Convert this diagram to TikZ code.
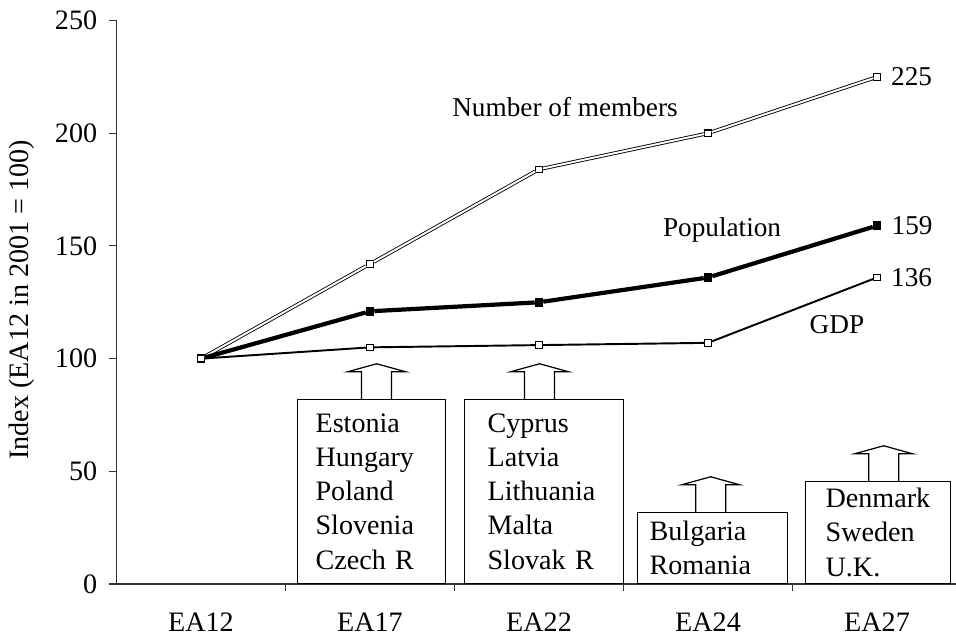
\documentclass[tikz,border=0pt]{standalone}
\usepackage{fontspec}
\setmainfont{Liberation Serif}
\usetikzlibrary{positioning}

\tikzset{
	axisline/.style={draw=black!80, line width=0.6pt},
	ticklabel/.style={inner sep=0pt, font=\fontsize{16}{18}\selectfont},
	openmark/.style={shape=rectangle, draw, fill=white, line width=0.6pt, minimum size=0.13cm, inner sep=0pt},
	fullmark/.style={shape=rectangle, draw, fill=black, line width=0.6pt, minimum size=0.15cm, inner sep=0pt},
	members/.style={draw=black, double=white, double distance=1.1pt, line width=0.5pt},
	population/.style={line width=2.4pt},
	gdp/.style={line width=1.1pt},
	countrybox/.style={shape=rectangle, draw, line width=0.7pt, anchor=south west, align=left, font=\fontsize{16}{19.5}\selectfont},
	serieslabel/.style={inner sep=0pt, font=\fontsize{15.5}{18}\selectfont},
}

% hollow arrow on top of a box: #1 box name, #2 shift
\newcommand{\entryarrow}[2]{
	\draw[line width=0.7pt, fill=white] ([xshift=#2]#1.north) ++(-0.3cm,0cm) -- ++(0cm,0.54cm) -- ++(-0.28cm,0cm)
		-- ++(0.58cm,0.16cm) -- ++(0.58cm,-0.16cm) -- ++(-0.28cm,0cm) -- ++(0cm,-0.54cm);
}

\begin{document}
\begin{tikzpicture}
	\useasboundingbox (0,0) rectangle (19.12,12.82);
	\begin{scope}[shift={(4.02,1.14)}, x=3.38cm, y=0.04508cm]
	% Axes, ticks and labels:
	\draw[axisline] (-0.5,250) -- (-0.5,0) -- (4.47,0);
	\foreach \v in {0,50,...,250} {
		\draw[axisline] (-0.5,\v) -- ++(-0.16cm,0cm);
		\node[ticklabel, anchor=east] (ytick\v) at ([xshift=-0.38cm]-0.5,\v) {\v};
	}
	\foreach \t in {0.5,1.5,2.5,3.5}
		\draw[axisline] (\t,0) -- ++(0cm,-0.14cm);
	\foreach \lab [count=\i from 0] in {EA12,EA17,EA22,EA24,EA27}
		\node[ticklabel] (xlab\i) at ([yshift=-0.76cm]\i,0) {\lab};
	\node[ticklabel, rotate=90] (ytitle) at (-1.059,126) {Index (EA12 in 2001 = 100)};

	% Data points:
	\foreach \v [count=\i from 0] in {100,142,184,200,225}
		\node[openmark] (m\i) at (\i,\v) {};
	\foreach \v [count=\i from 0] in {100,121,125,136,159}
		\node[fullmark] (p\i) at (\i,\v) {};
	\foreach \v [count=\i from 0] in {100,105,106,107,136}
		\node[openmark] (g\i) at (\i,\v) {};

	% Series lines:
	\draw[members] (m0) -- (m1) -- (m2) -- (m3) -- (m4);
	\draw[population] (p0) -- (p1) -- (p2) -- (p3) -- (p4);
	\draw[gdp] (g0) -- (g1) -- (g2) -- (g3) -- (g4);

	% Series labels and end values:
	\node[serieslabel] (memberslab) at (2.154,211.6) {Number of members};
	\node[serieslabel] (poplab) at (3.083,157.1) {Population};
	\node[serieslabel] (gdplab) at (3.763,114.9) {GDP};
	\node[serieslabel, right=0.2cm of m4] (mval) {225};
	\node[serieslabel, right=0.2cm of p4] (pval) {159};
	\node[serieslabel, right=0.2cm of g4] (gval) {136};

	% Entry boxes:
	\node[countrybox, text width=2.24cm, inner xsep=0.36cm, minimum height=3.68cm] (est) at (0.568,0)
		{Estonia\\Hungary\\Poland\\Slovenia\\Czech R};
	\node[countrybox, text width=2.26cm, inner xsep=0.46cm, minimum height=3.68cm] (cyp) at (1.556,0)
		{Cyprus\\Latvia\\Lithuania\\Malta\\Slovak R};
	\node[countrybox, text width=2.52cm, inner xsep=0.24cm, minimum height=1.42cm] (bul) at (2.580,0)
		{Bulgaria\\Romania};
	\node[countrybox, text width=2.1cm, inner xsep=0.4cm, minimum height=2.04cm] (den) at (3.574,0)
		{Denmark\\Sweden\\U.K.};
	\entryarrow{est}{0.1cm}
	\entryarrow{cyp}{-0.09cm}
	\entryarrow{bul}{-0.04cm}
	\entryarrow{den}{0.11cm}
	\end{scope}
\end{tikzpicture}
\end{document}
